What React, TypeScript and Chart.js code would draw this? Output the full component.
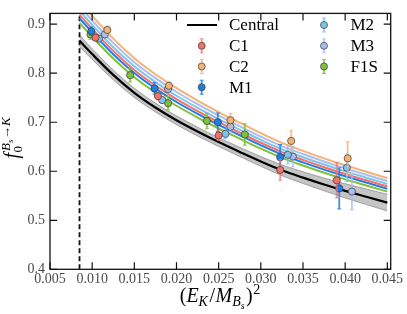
import React, { useEffect, useRef } from "react";
import { Chart, registerables } from "chart.js";
Chart.register(...registerables);

// ---- axes ----
const xTicks = [0.005, 0.01, 0.015, 0.02, 0.025, 0.03, 0.035, 0.04, 0.045];
const yTicks = [0.4, 0.5, 0.6, 0.7, 0.8, 0.9];
const xMin = 0.005;
const xMax = 0.0454;
const yMin = 0.4;
const yMax = 0.922;
const cutX = 0.0085;

// ---- fit curves ----
const curveX = [0.0085, 0.01, 0.0125, 0.015, 0.0175, 0.02, 0.0225, 0.025, 0.0275, 0.03, 0.0325, 0.035, 0.0375, 0.04, 0.0425, 0.045];
const central = [0.866, 0.839, 0.7965, 0.76, 0.73, 0.704, 0.681, 0.6595, 0.6395, 0.62, 0.602, 0.587, 0.573, 0.56, 0.548, 0.536];
const bandUpper = [0.878, 0.85, 0.8065, 0.7695, 0.739, 0.713, 0.69, 0.6685, 0.649, 0.63, 0.613, 0.599, 0.586, 0.5745, 0.564, 0.553];
const bandLower = [0.854, 0.828, 0.7865, 0.7505, 0.721, 0.695, 0.672, 0.6505, 0.63, 0.61, 0.591, 0.575, 0.56, 0.5455, 0.532, 0.519];
const fitC2 = [0.9465, 0.917, 0.8706, 0.8307, 0.7979, 0.7695, 0.7443, 0.7208, 0.699, 0.6777, 0.658, 0.6416, 0.6263, 0.6121, 0.599, 0.5858];
const fitM3 = [0.937, 0.9078, 0.8618, 0.8223, 0.7899, 0.7617, 0.7368, 0.7136, 0.6919, 0.6708, 0.6514, 0.6351, 0.62, 0.6059, 0.5929, 0.58];
const fitM2 = [0.9275, 0.8986, 0.8531, 0.814, 0.7818, 0.754, 0.7294, 0.7063, 0.6849, 0.664, 0.6447, 0.6287, 0.6137, 0.5998, 0.5869, 0.5741];
const fitC1 = [0.9193, 0.8906, 0.8455, 0.8067, 0.7749, 0.7473, 0.7229, 0.7001, 0.6788, 0.6581, 0.639, 0.6231, 0.6082, 0.5944, 0.5817, 0.569];
const fitM1 = [0.9119, 0.8835, 0.8387, 0.8003, 0.7687, 0.7413, 0.7171, 0.6945, 0.6734, 0.6529, 0.6339, 0.6181, 0.6034, 0.5897, 0.577, 0.5644];
const fitF1S = [0.9024, 0.8742, 0.83, 0.7919, 0.7607, 0.7336, 0.7096, 0.6872, 0.6664, 0.646, 0.6273, 0.6117, 0.5971, 0.5835, 0.571, 0.5585];

// ---- lattice data points ----
const c1X = [0.0104, 0.0178, 0.025, 0.0323, 0.039];
const c1Y = [0.8724, 0.7533, 0.673, 0.6026, 0.5815];
const c1E = [0.006, 0.008, 0.0105, 0.021, 0.036];
const c2X = [0.0118, 0.0191, 0.0264, 0.0336, 0.0403];
const c2Y = [0.8882, 0.7743, 0.704, 0.6618, 0.6263];
const c2E = [0.008, 0.0085, 0.014, 0.021, 0.034];
const m1X = [0.0099, 0.0174, 0.0249, 0.0323, 0.0393];
const m1Y = [0.8855, 0.769, 0.7, 0.6286, 0.565];
const m1E = [0.009, 0.012, 0.019, 0.026, 0.042];
const m2X = [0.0108, 0.0183, 0.0258, 0.0332, 0.0402];
const m2Y = [0.8704, 0.7454, 0.6763, 0.6336, 0.6072];
const m2E = [0.005, 0.007, 0.01, 0.019, 0.028];
const m3X = [0.0115, 0.019, 0.0264, 0.0338, 0.0408];
const m3Y = [0.879, 0.7678, 0.6908, 0.63, 0.5586];
const m3E = [0.005, 0.008, 0.011, 0.021, 0.0375];
const f1sX = [0.0098, 0.0145, 0.019, 0.0236, 0.0281];
const f1sY = [0.879, 0.796, 0.7388, 0.7026, 0.675];
const f1sE = [0.01, 0.014, 0.014, 0.016, 0.022];

const series = [
  { label: "C1", xs: c1X, ys: c1Y, es: c1E, fit: fitC1, color: "#f2716a", bar: "rgba(242,113,106,0.75)" },
  { label: "C2", xs: c2X, ys: c2Y, es: c2E, fit: fitC2, color: "#f5b273", bar: "rgba(245,178,115,0.8)" },
  { label: "M1", xs: m1X, ys: m1Y, es: m1E, fit: fitM1, color: "#1f7ee6", bar: "rgba(31,126,230,0.85)" },
  { label: "M2", xs: m2X, ys: m2Y, es: m2E, fit: fitM2, color: "#7cc4ee", bar: "rgba(124,196,238,0.8)" },
  { label: "M3", xs: m3X, ys: m3Y, es: m3E, fit: fitM3, color: "#a9bdf2", bar: "rgba(169,189,242,0.8)" },
  { label: "F1S", xs: f1sX, ys: f1sY, es: f1sE, fit: fitF1S, color: "#7fbf3c", bar: "rgba(127,191,60,0.85)" },
];

const SERIF = '"Liberation Serif", "DejaVu Serif", serif';

type Seg = { t: string; size: number; it?: boolean; dy: number; gap?: number };
function segWidth(ctx: CanvasRenderingContext2D, segs: Seg[]) {
  let w = 0;
  for (const s of segs) {
    ctx.font = `${s.it ? "italic " : ""}${s.size}px ${SERIF}`;
    w += ctx.measureText(s.t).width + (s.gap || 0);
  }
  return w;
}
function drawSegs(ctx: CanvasRenderingContext2D, segs: Seg[], x: number, y: number) {
  let cx = x;
  for (const s of segs) {
    ctx.font = `${s.it ? "italic " : ""}${s.size}px ${SERIF}`;
    ctx.fillText(s.t, cx, y + s.dy);
    cx += ctx.measureText(s.t).width + (s.gap || 0);
  }
  return cx;
}

function drawMarker(ctx: CanvasRenderingContext2D, x: number, y: number, color: string, bar: string, half: number) {
  ctx.save();
  ctx.strokeStyle = bar;
  ctx.lineWidth = 1.8;
  ctx.beginPath();
  ctx.moveTo(x, y - half);
  ctx.lineTo(x, y + half);
  ctx.stroke();
  ctx.lineWidth = 1;
  ctx.beginPath();
  ctx.moveTo(x - 2, y - half);
  ctx.lineTo(x + 2, y - half);
  ctx.moveTo(x - 2, y + half);
  ctx.lineTo(x + 2, y + half);
  ctx.stroke();
  ctx.beginPath();
  ctx.arc(x, y, 3.5, 0, Math.PI * 2);
  ctx.fillStyle = color;
  ctx.fill();
  ctx.lineWidth = 0.8;
  ctx.strokeStyle = "rgba(60,60,60,0.9)";
  ctx.stroke();
  ctx.restore();
}

const decorPlugin = {
  id: "decor",
  beforeDatasetDraw(chart: any, args: any) {
    const i = args.index;
    if (i >= series.length) return;
    const s = series[i];
    const ctx = chart.ctx as CanvasRenderingContext2D;
    const ys = chart.scales.y;
    const meta = args.meta;
    ctx.save();
    ctx.strokeStyle = s.bar;
    for (let k = 0; k < s.xs.length; k++) {
      const px = meta.data[k].x;
      const top = ys.getPixelForValue(s.ys[k] + s.es[k]);
      const bot = ys.getPixelForValue(s.ys[k] - s.es[k]);
      ctx.lineWidth = 1.8;
      ctx.beginPath();
      ctx.moveTo(px, top);
      ctx.lineTo(px, bot);
      ctx.stroke();
      ctx.lineWidth = 1;
      ctx.beginPath();
      ctx.moveTo(px - 2, top);
      ctx.lineTo(px + 2, top);
      ctx.moveTo(px - 2, bot);
      ctx.lineTo(px + 2, bot);
      ctx.stroke();
    }
    ctx.restore();
  },
  afterDraw(chart: any) {
    const ctx = chart.ctx as CanvasRenderingContext2D;
    const { left, right, top, bottom } = chart.chartArea;
    const xs = chart.scales.x;
    const ys = chart.scales.y;
    ctx.save();
    // frame
    ctx.strokeStyle = "#111";
    ctx.lineWidth = 1.3;
    ctx.strokeRect(left, top, right - left, bottom - top);
    // inward ticks
    ctx.lineWidth = 1.2;
    ctx.beginPath();
    for (const v of xTicks) {
      const p = xs.getPixelForValue(v);
      ctx.moveTo(p, bottom);
      ctx.lineTo(p, bottom - 7);
      ctx.moveTo(p, top);
      ctx.lineTo(p, top + 7);
    }
    for (const v of yTicks) {
      const p = ys.getPixelForValue(v);
      ctx.moveTo(left, p);
      ctx.lineTo(left + 7, p);
      ctx.moveTo(right, p);
      ctx.lineTo(right - 7, p);
    }
    ctx.stroke();

    // legend
    ctx.fillStyle = "#000";
    ctx.textBaseline = "middle";
    ctx.textAlign = "left";
    ctx.font = `17px ${SERIF}`;
    const rowY = [25, 45.8, 66.5, 87.2];
    ctx.strokeStyle = "#000";
    ctx.lineWidth = 2;
    ctx.beginPath();
    ctx.moveTo(187, rowY[0]);
    ctx.lineTo(217, rowY[0]);
    ctx.stroke();
    ctx.fillText("Central", 229, rowY[0] + 1);
    const col1 = [0, 1, 2];
    const col2 = [3, 4, 5];
    col1.forEach((si, r) => {
      const s = series[si];
      drawMarker(ctx, 201.7, rowY[r + 1], s.color, s.bar, 7);
      ctx.fillStyle = "#000";
      ctx.font = `17px ${SERIF}`;
      ctx.fillText(s.label, 229, rowY[r + 1] + 1);
    });
    col2.forEach((si, r) => {
      const s = series[si];
      drawMarker(ctx, 324, rowY[r], s.color, s.bar, 7);
      ctx.fillStyle = "#000";
      ctx.font = `17px ${SERIF}`;
      ctx.fillText(s.label, 350.5, rowY[r] + 1);
    });

    // x axis title: (E_K / M_{B_s})^2
    ctx.textBaseline = "alphabetic";
    ctx.fillStyle = "#000";
    const xt: Seg[] = [
      { t: "(", size: 20, dy: 0 },
      { t: "E", size: 20, it: true, dy: 0 },
      { t: "K", size: 14, it: true, dy: 4, gap: 1.5 },
      { t: "/", size: 20, dy: 0, gap: 0.5 },
      { t: "M", size: 20, it: true, dy: 0 },
      { t: "B", size: 14, it: true, dy: 4 },
      { t: "s", size: 10, it: true, dy: 7, gap: 1.5 },
      { t: ")", size: 20, dy: 0, gap: 0.5 },
      { t: "2", size: 14, dy: -8 },
    ];
    const wx = segWidth(ctx, xt);
    drawSegs(ctx, xt, 220 - wx / 2, 302);

    // y axis title: f_0^{B_s -> K}
    ctx.save();
    ctx.translate(17.5, 138);
    ctx.rotate(-Math.PI / 2);
    ctx.font = `italic 20px ${SERIF}`;
    const fW = ctx.measureText("f").width;
    const sup: Seg[] = [
      { t: "B", size: 13, it: true, dy: -8 },
      { t: "s", size: 9, it: true, dy: -5, gap: 0.5 },
      { t: "→", size: 13, dy: -8 },
      { t: "K", size: 13, it: true, dy: -8 },
    ];
    const supW = segWidth(ctx, sup);
    const total = fW + 2 + supW;
    const u0 = -total / 2;
    ctx.font = `italic 20px ${SERIF}`;
    ctx.fillText("f", u0, 0);
    ctx.font = `13px ${SERIF}`;
    ctx.fillText("0", u0 + fW + 0.5, 4.5);
    drawSegs(ctx, sup, u0 + fW + 2, 0);
    ctx.restore();

    ctx.restore();
  },
};

export default function App() {
  const ref = useRef<HTMLCanvasElement | null>(null);
  useEffect(() => {
    if (!ref.current) return;
    const pointSets = series.map((s) => ({
      label: s.label,
      data: s.xs.map((x, i) => ({ x, y: s.ys[i] })),
      showLine: false,
      pointRadius: 3.6,
      pointBackgroundColor: s.color,
      pointBorderColor: "rgba(60,60,60,0.9)",
      pointBorderWidth: 0.8,
      order: 0,
    }));
    const fitSets = series.map((s) => ({
      label: s.label + " fit",
      data: curveX.map((x, i) => ({ x, y: s.fit[i] })),
      showLine: true,
      borderColor: s.color,
      borderWidth: 2,
      pointRadius: 0,
      cubicInterpolationMode: "monotone",
      fill: false,
      order: 1,
    }));
    const centralSet = {
      label: "Central",
      data: curveX.map((x, i) => ({ x, y: central[i] })),
      showLine: true,
      borderColor: "#000",
      borderWidth: 2.2,
      pointRadius: 0,
      cubicInterpolationMode: "monotone",
      fill: false,
      order: 1,
    };
    const lowerIndex = pointSets.length + fitSets.length + 1;
    const lowerSet = {
      label: "band lower",
      data: curveX.map((x, i) => ({ x, y: bandLower[i] })),
      showLine: true,
      borderColor: "rgba(110,110,110,0.7)",
      borderWidth: 0.8,
      pointRadius: 0,
      cubicInterpolationMode: "monotone",
      fill: false,
      order: 3,
    };
    const upperSet = {
      label: "band upper",
      data: curveX.map((x, i) => ({ x, y: bandUpper[i] })),
      showLine: true,
      borderColor: "rgba(110,110,110,0.7)",
      borderWidth: 0.8,
      backgroundColor: "rgba(150,150,150,0.55)",
      pointRadius: 0,
      cubicInterpolationMode: "monotone",
      fill: { target: lowerIndex },
      order: 3,
    };
    const cutSet = {
      label: "cut",
      data: [
        { x: cutX, y: yMin },
        { x: cutX, y: yMax },
      ],
      showLine: true,
      borderColor: "#111",
      borderWidth: 1.8,
      borderDash: [5, 3],
      pointRadius: 0,
      fill: false,
      order: 2,
    };

    const chart = new Chart(ref.current, {
      type: "scatter",
      data: { datasets: [...pointSets, ...fitSets, centralSet, lowerSet, upperSet, cutSet] as any },
      options: {
        animation: false,
        responsive: false,
        maintainAspectRatio: false,
        devicePixelRatio: 1,
        events: [],
        layout: { padding: { left: 0, right: 16.3, top: 5, bottom: 0 } },
        plugins: { legend: { display: false }, tooltip: { enabled: false }, title: { display: false } },
        scales: {
          x: {
            type: "linear",
            min: xMin,
            max: xMax,
            grid: { display: false, drawTicks: false },
            border: { display: false },
            afterBuildTicks: (scale: any) => {
              scale.ticks = xTicks.map((v) => ({ value: v }));
            },
            afterFit: (scale: any) => {
              scale.height = 44.7;
            },
            ticks: {
              autoSkip: false,
              maxRotation: 0,
              padding: 2,
              color: "#4a4a4a",
              font: { family: SERIF, size: 14 },
              callback: (v: any) => Number(v).toFixed(3),
            },
          },
          y: {
            type: "linear",
            min: yMin,
            max: yMax,
            grid: { display: false, drawTicks: false },
            border: { display: false },
            afterBuildTicks: (scale: any) => {
              scale.ticks = yTicks.map((v) => ({ value: v }));
            },
            afterFit: (scale: any) => {
              scale.width = 50;
            },
            ticks: {
              autoSkip: false,
              padding: 5,
              color: "#4a4a4a",
              font: { family: SERIF, size: 14 },
              callback: (v: any) => Number(v).toFixed(1),
            },
          },
        },
      } as any,
      plugins: [decorPlugin as any],
    });
    return () => chart.destroy();
  }, []);

  return (
    <div style={{ position: "absolute", left: 0, top: 0, width: 407, height: 314, background: "#fff" }}>
      <canvas ref={ref} width={407} height={314} style={{ display: "block", width: 407, height: 314 }} />
    </div>
  );
}
